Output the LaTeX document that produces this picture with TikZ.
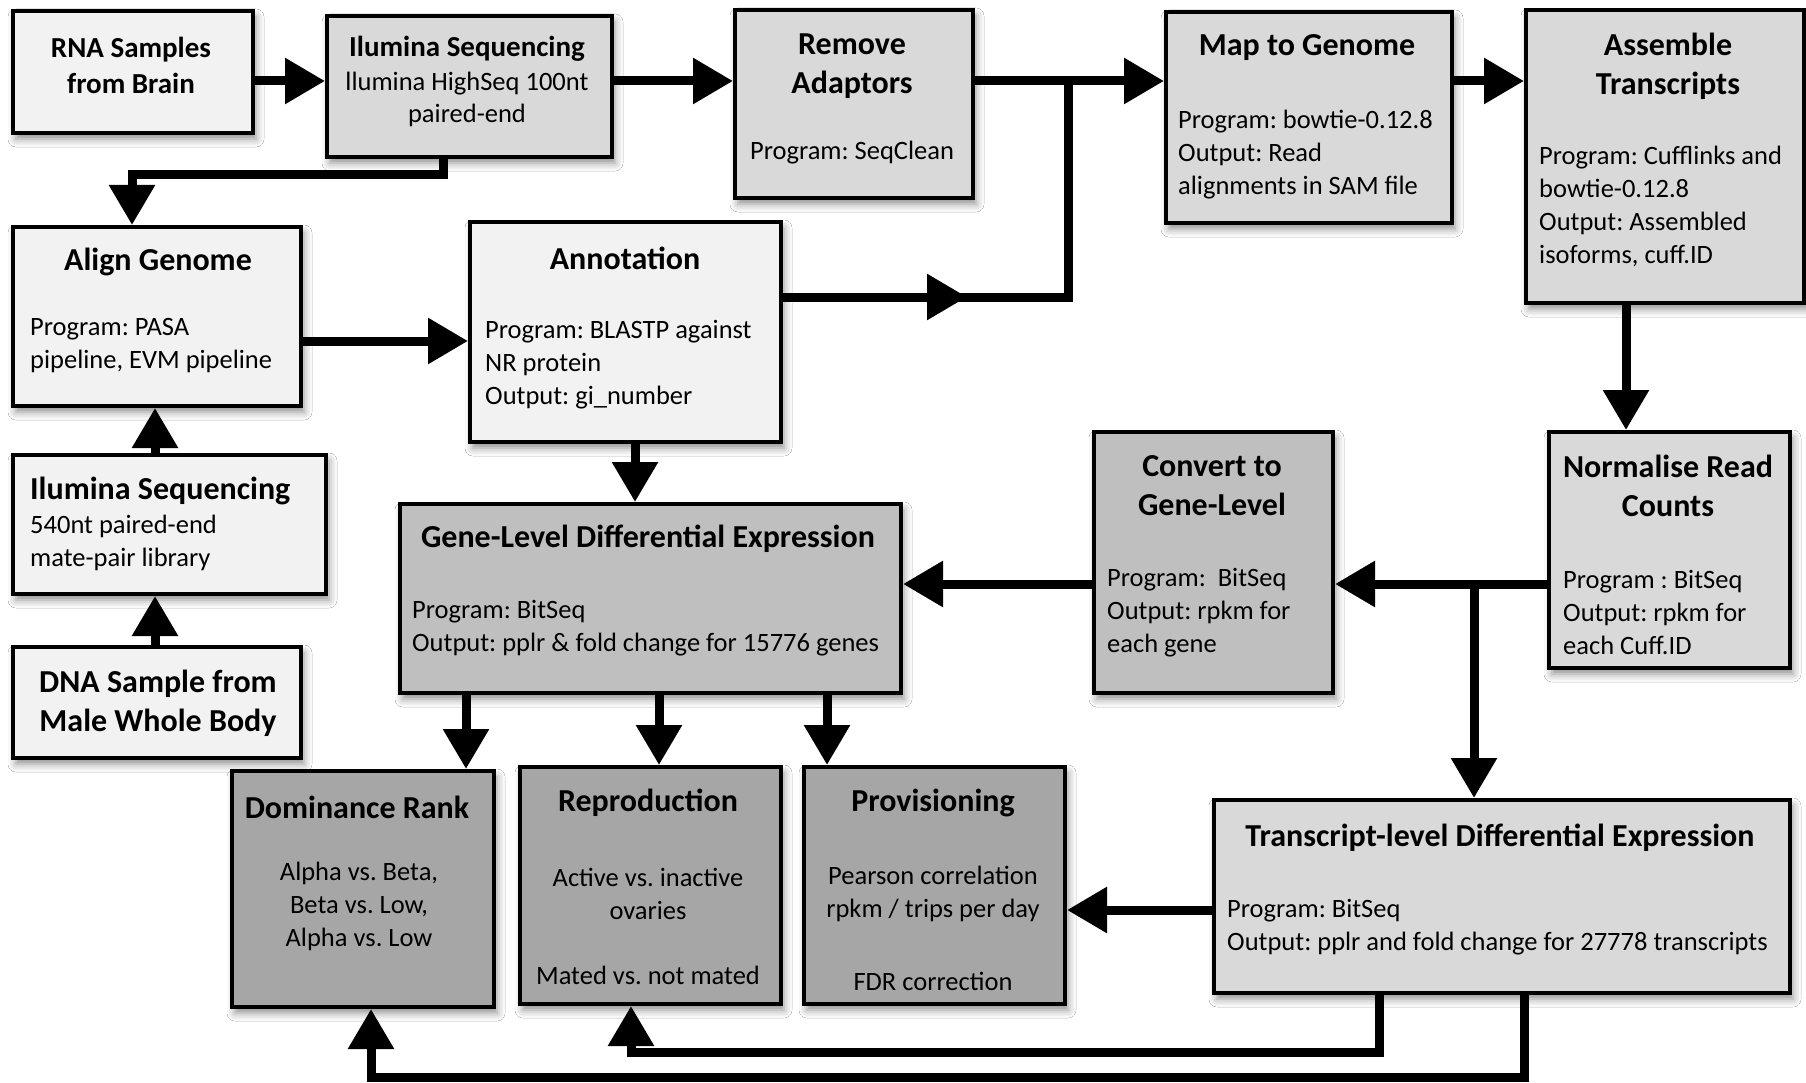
\documentclass[tikz,border=0pt]{standalone}
\usepackage{fontspec}
\setmainfont{Carlito}
\frenchspacing
\usetikzlibrary{arrows.meta,shadows.blur,calc}
\definecolor{cA}{HTML}{F2F2F2}
\definecolor{cB}{HTML}{D9D9D9}
\definecolor{cC}{HTML}{BFBFBF}
\definecolor{cD}{HTML}{A6A6A6}
\begin{document}
\begin{tikzpicture}[x=1pt,y=-1pt,
  box/.style={draw=black,line width=4pt,inner sep=0pt,anchor=north west,
    blur shadow={shadow xshift=3pt,shadow yshift=-6pt,shadow blur radius=8pt,shadow opacity=45}},
  ttl/.style={font=\fontsize{32}{39}\selectfont\bfseries,inner sep=0pt,align=center,yshift=-3pt},
  ttls/.style={font=\fontsize{29}{36}\selectfont\bfseries,inner sep=0pt,align=center,yshift=-3pt},
  bod/.style={font=\fontsize{26.5}{33}\selectfont,inner sep=0pt,align=left,yshift=-2.5pt},
  bodc/.style={bod,align=center},
  arr/.style={line width=9pt,-{Triangle[length=40pt,width=44pt]}},
  ln/.style={line width=9pt}]
\useasboundingbox (0,0) rectangle (1806,1083);
\fill[white] (0,0) rectangle (1806,1083);

% boxes
\node[box,fill=cA,minimum width=240pt,minimum height=122pt] (rna) at (11,9) {};
\node[box,fill=cB,minimum width=285pt,minimum height=141pt] (ilu) at (325,14) {};
\node[box,fill=cB,minimum width=238pt,minimum height=188pt] (rem) at (733,8) {};
\node[box,fill=cB,minimum width=286pt,minimum height=211pt] (map) at (1164,10) {};
\node[box,fill=cB,minimum width=278pt,minimum height=293pt] (asm) at (1524,8) {};
\node[box,fill=cA,minimum width=288pt,minimum height=179pt] (aln) at (11,225) {};
\node[box,fill=cA,minimum width=311pt,minimum height=220pt] (ann) at (468,220) {};
\node[box,fill=cA,minimum width=313pt,minimum height=139pt] (il5) at (11,453) {};
\node[box,fill=cA,minimum width=288pt,minimum height=111pt] (dna) at (11,645) {};
\node[box,fill=cC,minimum width=501pt,minimum height=189pt] (gde) at (398,502) {};
\node[box,fill=cC,minimum width=239pt,minimum height=261pt] (cvt) at (1092,430) {};
\node[box,fill=cB,minimum width=241pt,minimum height=236pt] (nrm) at (1547,430) {};
\node[box,fill=cD,minimum width=262pt,minimum height=236pt] (dom) at (230,769) {};
\node[box,fill=cD,minimum width=261pt,minimum height=237pt] (rep) at (518,765) {};
\node[box,fill=cD,minimum width=261pt,minimum height=237pt] (prv) at (802,765) {};
\node[box,fill=cB,minimum width=576pt,minimum height=193pt] (tde) at (1212,798) {};

% texts
\node[ttls] (rnaT) at (131,62) {RNA Samples\\from Brain};
\node[ttls] (iluT) at (467,46) {Ilumina Sequencing};
\node[bodc,font=\fontsize{26.5}{32}\selectfont] (iluB) at (467,97) {llumina HighSeq 100nt\\paired-end};
\node[ttl] (remT) at (852,63) {Remove\\Adaptors};
\node[bodc] (remB) at (852,150) {Program: SeqClean};
\node[ttl] (mapT) at (1307,45) {Map to Genome};
\node[bod,anchor=west] (mapB) at (1178,152) {Program: bowtie-0.12.8\\Output: Read\\alignments in SAM file};
\node[ttl] (asmT) at (1668,63) {Assemble\\Transcripts};
\node[bod,anchor=west] (asmB) at (1539,204) {Program: Cufflinks and\\bowtie-0.12.8\\Output: Assembled\\isoforms, cuff.ID};
\node[ttl] (alnT) at (158,259) {Align Genome};
\node[bod,anchor=west] (alnB) at (30,343) {Program: PASA\\pipeline, EVM pipeline};
\node[ttl] (annT) at (625,255) {Annotation};
\node[bod,anchor=west] (annB) at (485,362) {Program: BLASTP against\\NR protein\\Output: gi\_number};
\node[ttl,anchor=west] (il5T) at (30,488) {Ilumina Sequencing};
\node[bod,anchor=west] (il5B) at (30,540) {540nt paired-end\\mate-pair library};
\node[ttl] (dnaT) at (158,700) {DNA Sample from\\Male Whole Body};
\node[ttl] (gdeT) at (648,536) {Gene-Level Differential Expression};
\node[bod,anchor=west] (gdeB) at (412,626) {Program: BitSeq\\Output: pplr \& fold change for 15776 genes};
\node[ttl] (cvtT) at (1212,483) {Convert to\\Gene-Level};
\node[bod,anchor=west] (cvtB) at (1107,610) {Program:\ \ BitSeq\\Output: rpkm for\\each gene};
\node[ttl] (nrmT) at (1668,483) {Normalise Read\\Counts};
\node[bod,anchor=west] (nrmB) at (1563,610) {Program : BitSeq\\Output: rpkm for\\each Cuff.ID};
\node[ttl] (domT) at (357,804) {Dominance Rank};
\node[bodc] (domB) at (359,904) {Alpha vs. Beta,\\Beta vs. Low,\\Alpha vs. Low};
\node[ttl] (repT) at (648,800) {Reproduction};
\node[bodc] (repB) at (648,891) {Active vs. inactive\\ovaries};
\node[bodc] (repC) at (648,973) {Mated vs. not mated};
\node[ttl] (prvT) at (933,800) {Provisioning};
\node[bodc] (prvB) at (933,891) {Pearson correlation\\rpkm / trips per day};
\node[bodc] (prvC) at (933,979) {FDR correction};
\node[ttl] (tdeT) at (1500,835) {Transcript-level Differential Expression};
\node[bod,anchor=west] (tdeB) at (1227,925) {Program: BitSeq\\Output: pplr and fold change for 27778 transcripts};

% connectors
\coordinate (j1) at (1068,81);
\coordinate (jt) at (967,297);
\coordinate (j2) at (1474,584);
\draw[arr] (rna.east |- 0,81) -- (ilu.west |- 0,81);
\draw[arr] (ilu.east |- 0,81) -- (rem.west |- 0,81);
\draw[arr] (rem.east |- 0,81) -- (map.west |- 0,81);
\draw[arr] (map.east |- 0,81) -- (asm.west |- 0,81);
\draw[arr] (ann.east |- 0,297) -- (jt);
\draw[ln] ([xshift=-20pt]jt) -- (1068,297) -- (j1);
\draw[arr] (443,0 |- ilu.south) -- (443,175) -- (132,175) -- (132,0 |- aln.north);
\draw[arr] (aln.east |- 0,341) -- (ann.west |- 0,341);
\draw[arr] (155,0 |- il5.north) -- (155,0 |- aln.south);
\draw[arr] (155,0 |- dna.north) -- (155,0 |- il5.south);
\draw[arr] (1626,0 |- asm.south) -- (1626,0 |- nrm.north);
\draw[arr] (635,0 |- ann.south) -- (635,0 |- gde.north);
\draw[arr] (nrm.west |- j2) -- (cvt.east |- j2);
\draw[arr] (j2) -- (j2 |- tde.north);
\draw[arr] (cvt.west |- j2) -- (gde.east |- j2);
\draw[arr] (466,0 |- gde.south) -- (466,0 |- dom.north);
\draw[arr] (659,0 |- gde.south) -- (659,0 |- rep.north);
\draw[arr] (827,0 |- gde.south) -- (827,0 |- prv.north);
\draw[arr] (tde.west |- 0,910) -- (prv.east |- 0,910);
\draw[arr] (1379,0 |- tde.south) -- (1379,1052) -- (631,1052) -- (631,0 |- rep.south);
\draw[arr] (1524,0 |- tde.south) -- (1524,1077) -- (371,1077) -- (371,0 |- dom.south);
\end{tikzpicture}
\end{document}
